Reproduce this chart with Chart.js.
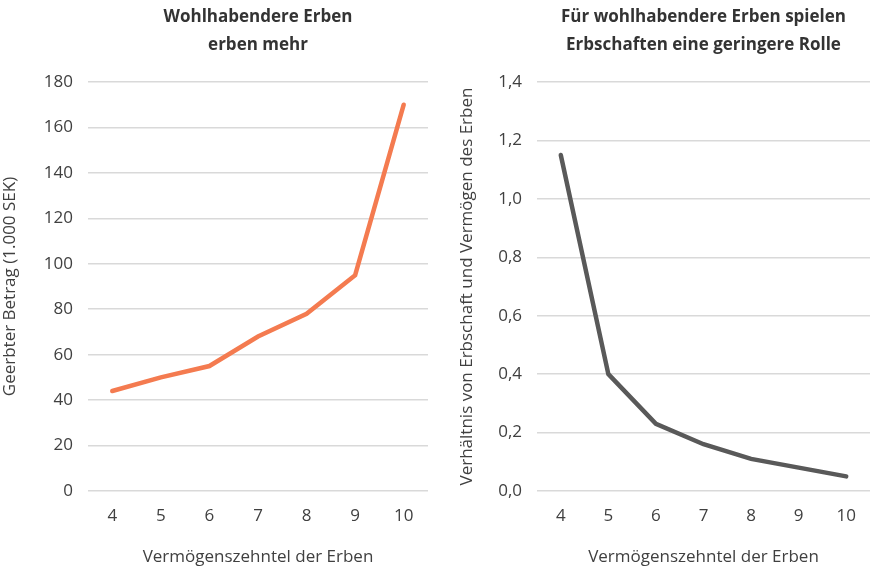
<!DOCTYPE html>
<html>
<head>
<meta charset="utf-8">
<script src="https://cdn.jsdelivr.net/npm/chart.js@4/dist/chart.umd.min.js"></script>
<style>
  html, body { margin: 0; padding: 0; background: #ffffff; }
  #wrap { display: flex; width: 872px; height: 567px; }
  .box { position: relative; height: 567px; }
  #b1 { width: 436px; }
  #b2 { width: 436px; }
</style>
</head>
<body>
<div id="wrap">
  <div class="box" id="b1"><canvas id="c1" width="436" height="567"></canvas></div>
  <div class="box" id="b2"><canvas id="c2" width="436" height="567"></canvas></div>
</div>
<script>
// ---- data ----
const deciles = ['4', '5', '6', '7', '8', '9', '10'];
const inheritedAmount = [44, 50, 55, 68, 78, 95, 170];
const inheritanceToWealth = [1.15, 0.40, 0.23, 0.16, 0.11, 0.08, 0.05];
const leftYTicks = ['0', '20', '40', '60', '80', '100', '120', '140', '160', '180'];
const rightYTicks = ['0,0', '0,2', '0,4', '0,6', '0,8', '1,0', '1,2', '1,4'];
const leftTitle = ['Wohlhabendere Erben', 'erben mehr'];
const rightTitle = ['Für wohlhabendere Erben spielen', 'Erbschaften eine geringere Rolle'];
const leftYLabel = 'Geerbter Betrag (1.000 SEK)';
const rightYLabel = 'Verhältnis von Erbschaft und Vermögen des Erben';
const xLabel = 'Vermögenszehntel der Erben';

const FONT = "'Open Sans', 'Noto Sans', sans-serif";
const TXT = '#404040';
const GRID = '#d9d9d9';

function makeChart(id, values, color, title, yLabel, yMax, yStep, yTickLabels, yWidth, padLeft, padRight) {
  return new Chart(document.getElementById(id), {
    type: 'line',
    data: {
      labels: deciles,
      datasets: [{
        data: values,
        borderColor: color,
        backgroundColor: color,
        borderWidth: 4.5,
        pointRadius: 0,
        tension: 0,
        borderCapStyle: 'round',
        borderJoinStyle: 'miter'
      }]
    },
    options: {
      responsive: false,
      animation: false,
      layout: { padding: { left: padLeft, right: padRight, top: 0, bottom: 0 } },
      plugins: {
        legend: { display: false },
        tooltip: { enabled: false },
        title: {
          display: true,
          text: title,
          fullSize: false,
          color: '#333333',
          font: { family: FONT, size: 17, weight: 'bold', lineHeight: '28px' },
          padding: { top: 3, bottom: 23 }
        }
      },
      scales: {
        x: {
          offset: true,
          grid: { display: false, drawTicks: false },
          border: { display: false },
          ticks: { color: TXT, font: { family: FONT, size: 17 }, padding: 15, maxRotation: 0 },
          title: { display: true, text: xLabel, color: TXT, font: { family: FONT, size: 17 }, padding: { top: 12, bottom: 0 } },
          afterFit: (s) => { s.height = 76; }
        },
        y: {
          min: 0,
          max: yMax,
          grid: { color: GRID, lineWidth: 1.5, drawTicks: false },
          border: { display: false },
          ticks: {
            stepSize: yStep,
            color: TXT,
            font: { family: FONT, size: 17 },
            padding: 15,
            callback: (v, i) => yTickLabels[i]
          },
          title: { display: true, text: yLabel, color: TXT, font: { family: FONT, size: 17 }, padding: { top: 0, bottom: 4 } },
          afterFit: (s) => { s.width = yWidth; }
        }
      }
    }
  });
}

makeChart('c1', inheritedAmount, '#f47b50', leftTitle, leftYLabel, 180, 20, leftYTicks, 88, 0, 8);
makeChart('c2', inheritanceToWealth, '#595959', rightTitle, rightYLabel, 1.4, 0.2, rightYTicks, 80, 21, 2);
</script>
</body>
</html>
